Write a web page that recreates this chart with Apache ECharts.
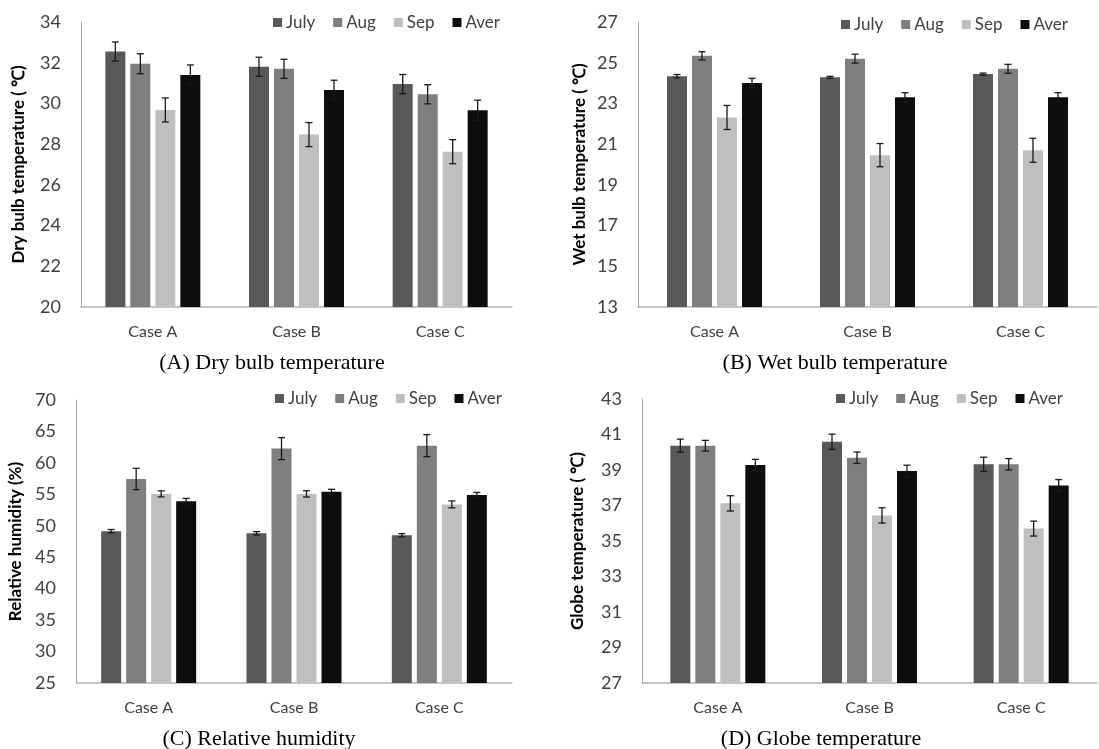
<!DOCTYPE html>
<html>
<head>
<meta charset="utf-8">
<script src="https://cdn.jsdelivr.net/npm/echarts@6/dist/echarts.min.js"></script>
<style>html,body{margin:0;padding:0;background:#fff;}#c{width:1099px;height:749px;}</style>
</head>
<body>
<div id="c"></div>
<script>
var cases = ['Case A', 'Case B', 'Case C'];
var months = ['July', 'Aug', 'Sep', 'Aver'];

// (A) Dry bulb temperature
var dryJuly = [32.55, 31.8, 30.95];
var dryAug = [31.95, 31.7, 30.45];
var drySep = [29.68, 28.47, 27.63];
var dryAver = [31.4, 30.66, 29.66];
var dryJulyErr = [0.47, 0.47, 0.47];
var dryAugErr = [0.49, 0.47, 0.47];
var drySepErr = [0.59, 0.59, 0.59];
var dryAverErr = [0.49, 0.48, 0.5];

// (B) Wet bulb temperature
var wetJuly = [24.34, 24.28, 24.44];
var wetAug = [25.34, 25.2, 24.7];
var wetSep = [22.31, 20.46, 20.7];
var wetAver = [24.0, 23.3, 23.3];
var wetJulyErr = [0.08, 0.05, 0.05];
var wetAugErr = [0.2, 0.22, 0.22];
var wetSepErr = [0.59, 0.57, 0.59];
var wetAverErr = [0.23, 0.23, 0.23];

// (C) Relative humidity
var rhJuly = [49.14, 48.8, 48.5];
var rhAug = [57.44, 62.27, 62.74];
var rhSep = [55.07, 55.07, 53.4];
var rhAver = [53.9, 55.4, 54.9];
var rhJulyErr = [0.27, 0.27, 0.25];
var rhAugErr = [1.7, 1.75, 1.75];
var rhSepErr = [0.48, 0.5, 0.55];
var rhAverErr = [0.45, 0.4, 0.4];

// (D) Globe temperature
var glJuly = [40.37, 40.59, 39.32];
var glAug = [40.37, 39.69, 39.32];
var glSep = [37.12, 36.44, 35.7];
var glAver = [39.28, 38.94, 38.13];
var glJulyErr = [0.37, 0.43, 0.4];
var glAugErr = [0.3, 0.32, 0.32];
var glSepErr = [0.43, 0.43, 0.42];
var glAverErr = [0.32, 0.33, 0.33];

var dryTicks = {min: 20, max: 34, interval: 2};
var wetTicks = {min: 13, max: 27, interval: 2};
var rhTicks = {min: 25, max: 70, interval: 5};
var glTicks = {min: 27, max: 43, interval: 2};

var panels = [
  {vals: [dryJuly, dryAug, drySep, dryAver], errs: [dryJulyErr, dryAugErr, drySepErr, dryAverErr], ticks: dryTicks,
   name: 'Dry bulb temperature ( \u2103)', caption: '(A) Dry bulb temperature',
   grid: {left: 81, right: 587, top: 22, bottom: 442}, nameGap: 54, legendLeft: 268, legendTop: 9, cap: [272, 363]},
  {vals: [wetJuly, wetAug, wetSep, wetAver], errs: [wetJulyErr, wetAugErr, wetSepErr, wetAverErr], ticks: wetTicks,
   name: 'Wet bulb temperature ( \u2103)', caption: '(B) Wet bulb temperature',
   grid: {left: 638, right: 2, top: 22, bottom: 442}, nameGap: 50, legendLeft: 836, legendTop: 11, cap: [835, 363]},
  {vals: [rhJuly, rhAug, rhSep, rhAver], errs: [rhJulyErr, rhAugErr, rhSepErr, rhAverErr], ticks: rhTicks,
   name: 'Relative humidity (%)', caption: '(C) Relative humidity',
   grid: {left: 76, right: 587, top: 400, bottom: 66}, nameGap: 52, legendLeft: 270, legendTop: 385, cap: [259, 739]},
  {vals: [glJuly, glAug, glSep, glAver], errs: [glJulyErr, glAugErr, glSepErr, glAverErr], ticks: glTicks,
   name: 'Globe temperature ( \u2103)', caption: '(D) Globe temperature',
   grid: {left: 642, right: 2, top: 399, bottom: 66}, nameGap: 56, legendLeft: 831, legendTop: 385, cap: [821, 739]}
];

var colors = ['#595959', '#7f7f7f', '#bfbfbf', '#0d0d0d'];
var FONT = 'Lato';
var BAR_W = 20, BAR_STEP = 25;

var option = {
  animation: false,
  backgroundColor: '#ffffff',
  grid: [], xAxis: [], yAxis: [], legend: [], series: [], graphic: []
};

panels.forEach(function (p, gi) {
  option.grid.push(p.grid);
  option.xAxis.push({
    type: 'category', gridIndex: gi, data: cases,
    axisLine: {lineStyle: {color: '#b4b4b4', width: 1.5}},
    axisTick: {show: false},
    axisLabel: {color: '#404040', fontSize: 16, fontFamily: FONT, margin: 17}
  });
  option.yAxis.push({
    type: 'value', gridIndex: gi, min: p.ticks.min, max: p.ticks.max, interval: p.ticks.interval,
    name: p.name, nameLocation: 'middle', nameGap: p.nameGap,
    nameTextStyle: {color: '#000', fontSize: 17, fontWeight: 'bold', fontFamily: FONT},
    axisLine: {show: true, lineStyle: {color: '#a6a6a6', width: 1}},
    axisTick: {show: false},
    splitLine: {show: false},
    axisLabel: {color: '#404040', fontSize: 18, fontFamily: FONT, margin: 20}
  });
  option.legend.push({
    data: months, left: p.legendLeft, top: p.legendTop, orient: 'horizontal',
    itemWidth: 9, itemHeight: 9, itemGap: 18, icon: 'rect',
    textStyle: {color: '#404040', fontSize: 17, fontFamily: FONT, padding: [0, 0, 0, -1]}
  });
  var errData = [];
  months.forEach(function (m, k) {
    option.series.push({
      type: 'bar', name: m, xAxisIndex: gi, yAxisIndex: gi,
      data: p.vals[k], barWidth: BAR_W, barGap: '25%',
      itemStyle: {color: colors[k]}
    });
    p.vals[k].forEach(function (v, ci) {
      errData.push([ci, v, p.errs[k][ci], k]);
    });
  });
  option.series.push({
    type: 'custom', xAxisIndex: gi, yAxisIndex: gi, z: 10,
    data: errData,
    encode: {x: 0, y: 1},
    renderItem: function (params, api) {
      var ci = api.value(0), v = api.value(1), e = api.value(2), k = api.value(3);
      var off = (k - 1.5) * BAR_STEP;
      var hi = api.coord([ci, v + e]);
      var lo = api.coord([ci, v - e]);
      var x = hi[0] + off;
      var cw = 3.5;
      var st = {stroke: '#1a1a1a', lineWidth: 1.3};
      return {type: 'group', children: [
        {type: 'line', shape: {x1: x, y1: hi[1], x2: x, y2: lo[1]}, style: st},
        {type: 'line', shape: {x1: x - cw, y1: hi[1], x2: x + cw, y2: hi[1]}, style: st},
        {type: 'line', shape: {x1: x - cw, y1: lo[1], x2: x + cw, y2: lo[1]}, style: st}
      ]};
    }
  });
  option.graphic.push({
    type: 'text', x: p.cap[0], y: p.cap[1],
    style: {text: p.caption, fill: '#000', font: '22px "Liberation Serif", "Times New Roman", serif',
            textAlign: 'center', textVerticalAlign: 'middle'}
  });
});

var chart = echarts.init(document.getElementById('c'), null, {renderer: 'canvas'});
chart.setOption(option);
</script>
</body>
</html>
